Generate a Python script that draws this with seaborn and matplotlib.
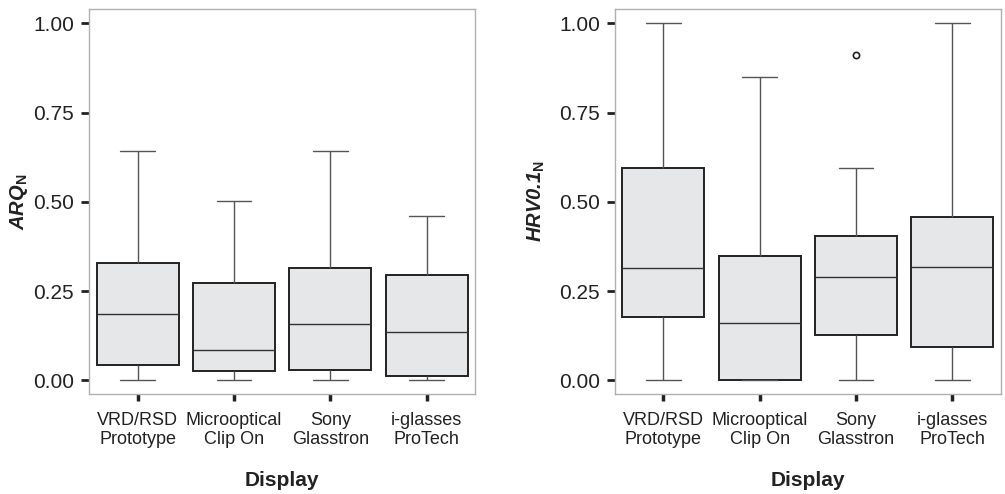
import numpy as np
import pandas as pd
import matplotlib
matplotlib.use("Agg")
import matplotlib.pyplot as plt
import seaborn as sns

# display categories (tick labels)
displays = ["VRD/RSD\nPrototype", "Microoptical\nClip On", "Sony\nGlasstron", "i-glasses\nProTech"]

# ARQ_N values per display (min, q1, median, q3, max)
arq_vrd = [0.000, 0.044, 0.187, 0.328, 0.643]
arq_micro = [0.000, 0.026, 0.085, 0.272, 0.501]
arq_sony = [0.000, 0.029, 0.157, 0.314, 0.643]
arq_iglasses = [0.000, 0.013, 0.136, 0.294, 0.459]

# HRV0.1_N values per display
hrv_vrd = [0.000, 0.176, 0.314, 0.594, 1.000]
hrv_micro = [0.000, 0.000, 0.160, 0.347, 0.850]
hrv_sony = [0.000, 0.060, 0.126, 0.200, 0.288, 0.350, 0.403, 0.594, 0.910]
hrv_iglasses = [0.000, 0.092, 0.317, 0.456, 1.000]


def to_long(groups, name):
    rows = []
    for disp, vals in zip(displays, groups):
        for v in vals:
            rows.append((disp, v))
    return pd.DataFrame(rows, columns=["Display", name])


arq = to_long([arq_vrd, arq_micro, arq_sony, arq_iglasses], "ARQ")
hrv = to_long([hrv_vrd, hrv_micro, hrv_sony, hrv_iglasses], "HRV")

sns.set_style("white")
plt.rcParams["font.family"] = ["Liberation Sans", "DejaVu Sans"]
plt.rcParams["mathtext.fontset"] = "custom"
plt.rcParams["mathtext.bf"] = "Liberation Sans:bold"
plt.rcParams["mathtext.rm"] = "Liberation Sans"

fig = plt.figure(figsize=(10.05, 4.94), dpi=100)
ax1 = fig.add_axes([0.089, 0.2024, 0.3836, 0.7794])
ax2 = fig.add_axes([0.612, 0.2024, 0.3836, 0.7794])

box_kw = dict(
    width=0.85,
    whis=1.5,
    boxprops=dict(facecolor="#e6e7e8", edgecolor="#222222", linewidth=1.4),
    whiskerprops=dict(color="#555555", linewidth=1.0),
    capprops=dict(color="#555555", linewidth=1.0),
    medianprops=dict(color="#333333", linewidth=1.0),
    flierprops=dict(marker="o", markersize=4.5, markerfacecolor="none",
                    markeredgecolor="#222222", markeredgewidth=1.2),
    capwidths=0.36,
)

sns.boxplot(data=arq, x="Display", y="ARQ", order=displays, ax=ax1, **box_kw)
sns.boxplot(data=hrv, x="Display", y="HRV", order=displays, ax=ax2, **box_kw)

for ax, lab, lx in [(ax1, "ARQ$_{\\mathbf{N}}$", -0.154), (ax2, "HRV0.1$_{\\mathbf{N}}$", -0.176)]:
    ax.set_xlim(-0.5, 3.5)
    ax.set_ylim(-0.0384, 1.040)
    ax.set_yticks([0, 0.25, 0.5, 0.75, 1.0])
    ax.set_yticklabels(["0.00", "0.25", "0.50", "0.75", "1.00"])
    for s in ax.spines.values():
        s.set_color("#b0b0b0")
        s.set_linewidth(1.0)
    ax.tick_params(axis="y", length=6, width=2, color="#222222", labelsize=15,
                   labelcolor="#222222", pad=5, left=True)
    ax.tick_params(axis="x", length=5, width=2.5, color="#222222", labelsize=13,
                   labelcolor="#222222", pad=8, bottom=True)
    ax.set_ylabel(lab, fontsize=14.5, fontweight="bold", fontstyle="italic", color="#222222")
    ax.yaxis.set_label_coords(lx, 0.5)
    ax.set_xlabel("Display", fontsize=15, fontweight="bold", color="#222222")
    ax.xaxis.set_label_coords(0.5, -0.2)
    for t in ax.get_xticklabels():
        t.set_linespacing(1.15)

fig.savefig("out.png", dpi=100)
